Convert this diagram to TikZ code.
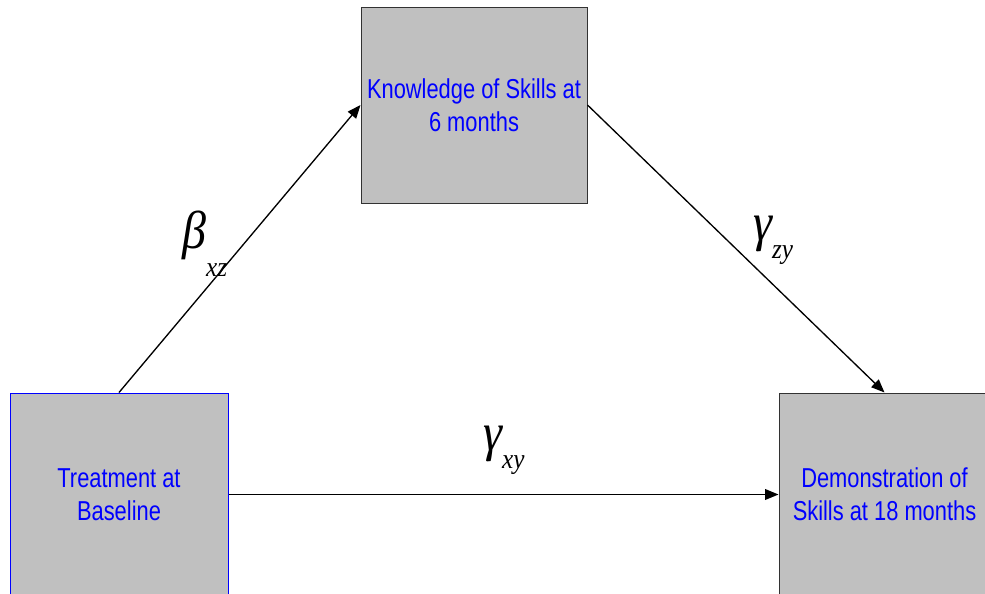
\documentclass[tikz,border=0pt]{standalone}
\usepackage{fontspec}
\setmainfont{Liberation Sans}
\newfontfamily\boxfont[FakeStretch=0.8]{Liberation Sans}
\newfontfamily\coeffont[FakeStretch=0.9]{Liberation Serif}
\usetikzlibrary{arrows.meta}
\definecolor{boxgray}{RGB}{192,192,192}
\definecolor{boxedge}{RGB}{50,50,50}
\newcommand{\coef}[3][-14pt]{{\coeffont\itshape\fontsize{40}{40}\selectfont #2}\raisebox{#1}{\coeffont\itshape\fontsize{21}{21}\selectfont #3}}

\begin{document}
\begin{tikzpicture}[
	x=0.75pt, y=-0.75pt,
	stage/.style={ rectangle, draw=boxedge, line width=0.75pt, fill=boxgray, text=blue, align=center, inner sep=0pt, font=\boxfont\fontsize{20.5}{24.75}\selectfont },
	effect/.style={ line width=1pt, -{Triangle[length=10pt,width=8pt]} },
	coefficient/.style={ anchor=base west, inner sep=0pt }
]

\useasboundingbox (0,0) rectangle (985,593);

\begin{scope}
	\clip (0,0) rectangle (985,593);
	\node[stage, minimum width=169.5pt, minimum height=147pt] at (474,105) (knowledge) {Knowledge of Skills at\\6 months};
	\node[stage, draw=blue, minimum width=163.5pt, minimum height=152.25pt] at (119,494.5) (treatment) {Treatment at\\Baseline};
	\node[stage, minimum width=158.25pt, minimum height=152.25pt] at (884.5,494.5) (demonstration) {Demonstration of\\Skills at 18 months};
	\draw[effect] (treatment.north) to (knowledge.west);
	\draw[effect] (knowledge.east) to (demonstration.north);
	\draw[effect] (treatment.east) to (demonstration.west);
\end{scope}

\node[coefficient] at (182,248) (bxz) {\coef[-21pt]{β}{xz}};
\node[coefficient] at (753,240) (gzy) {\coef{γ}{zy}};
\node[coefficient] at (483,450) (gxy) {\coef{γ}{xy}};

\end{tikzpicture}
\end{document}
